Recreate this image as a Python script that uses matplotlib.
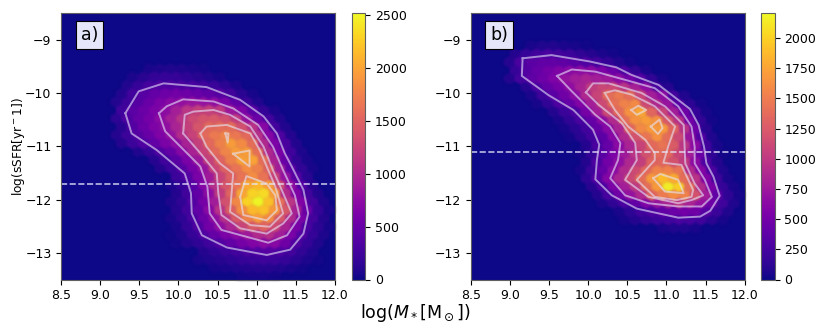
# Specific star formation rate against stellar mass, two hexbin panels with contours

import numpy as np
import matplotlib
matplotlib.use('Agg')
import matplotlib.pyplot as plt

# hexagon spacing
hex_dx = 0.14
hex_dy = 0.156

# Panel a) one row of hexagons per line: row height, x of the first hexagon, counts
a_row_y = [-13.444, -13.288, -13.132, -12.976, -12.82, -12.664, -12.508, -12.352, -12.196, -12.04,
           -11.884, -11.728, -11.572, -11.416, -11.26, -11.104, -10.948, -10.792, -10.636, -10.48,
           -10.324, -10.168, -10.012, -9.856, -9.70, -9.544]
a_row_x0 = [10.81, 10.46, 10.25, 10.32, 9.97, 9.90, 9.97, 9.90, 9.97, 9.90,
            9.97, 9.90, 9.97, 9.76, 9.69, 9.48, 9.27, 9.20, 9.27, 9.20,
            9.27, 9.20, 9.27, 9.34, 9.41, 9.62]
a_counts = [
    [30, 40, 40, 30],
    [40, 60, 80, 100, 110, 110, 90, 60, 30],
    [50, 80, 110, 150, 190, 220, 240, 230, 190, 130, 70, 30],
    [100, 160, 220, 280, 340, 370, 390, 350, 280, 170, 80],
    [30, 90, 160, 250, 360, 470, 580, 670, 740, 710, 550, 340, 190, 80],
    [20, 70, 190, 350, 490, 620, 730, 870, 1030, 1070, 900, 620, 370, 190, 70],
    [50, 180, 360, 570, 780, 980, 1240, 1440, 1520, 1320, 960, 610, 310, 140, 40],
    [50, 150, 310, 520, 770, 1080, 1430, 1750, 1950, 1820, 1420, 1010, 610, 280, 100],
    [110, 260, 460, 720, 1100, 1480, 1850, 2150, 2200, 1920, 1430, 940, 510, 200, 60],
    [70, 170, 370, 580, 900, 1350, 1800, 2300, 2500, 2200, 1620, 1120, 650, 270, 80],
    [100, 260, 470, 760, 1170, 1530, 2000, 2300, 2350, 1950, 1050, 650, 280, 90],
    [70, 190, 400, 690, 1070, 1400, 1650, 2050, 2150, 1950, 1300, 780, 370, 120],
    [230, 370, 620, 880, 1250, 1500, 1650, 1850, 1650, 1250, 800, 400, 130],
    [100, 220, 400, 590, 810, 1260, 1500, 1650, 1850, 1750, 1500, 900, 430, 170, 40],
    [110, 260, 410, 620, 850, 1210, 1520, 1750, 1980, 2000, 1600, 950, 500, 170, 50],
    [80, 180, 350, 480, 700, 950, 1230, 1560, 1780, 1950, 1950, 1620, 1000, 600, 260, 70],
    [100, 230, 360, 470, 620, 750, 950, 1200, 1560, 1750, 1950, 1830, 1600, 1030, 640, 320, 90],
    [100, 230, 390, 510, 650, 800, 1050, 1230, 1570, 1700, 1780, 1680, 1560, 1080, 680, 340, 100],
    [120, 370, 520, 640, 770, 970, 1200, 1400, 1580, 1600, 1600, 1350, 1100, 700, 280, 80],
    [150, 340, 480, 590, 740, 920, 1120, 1300, 1390, 1420, 1350, 1170, 800, 520, 270, 80],
    [250, 420, 520, 620, 750, 920, 1120, 1200, 1200, 1150, 850, 640, 420, 180, 50],
    [90, 240, 390, 510, 620, 720, 790, 830, 800, 760, 620, 450, 230, 80],
    [90, 270, 400, 480, 540, 570, 540, 500, 450, 390, 270, 130, 40],
    [90, 200, 300, 360, 360, 340, 310, 270, 220, 140, 60],
    [60, 120, 180, 200, 190, 160, 120, 80, 40],
    [50, 70, 80, 70, 50, 30],
]

# Panel b)
b_row_y = [-12.54, -12.384, -12.228, -12.072, -11.916, -11.76, -11.604, -11.448, -11.292, -11.136,
           -10.98, -10.824, -10.668, -10.512, -10.356, -10.2, -10.044, -9.888, -9.732, -9.576,
           -9.42, -9.264, -9.108]
b_row_x0 = [10.95, 10.46, 10.39, 10.18, 10.11, 10.04, 9.97, 9.90, 9.97, 9.90,
            9.97, 9.76, 9.69, 9.62, 9.55, 9.34, 9.27, 9.20, 8.99, 9.06,
            8.99, 9.06, 9.27]
b_counts = [
    [50, 70, 70, 50],
    [40, 90, 150, 200, 240, 270, 260, 220, 120, 40],
    [50, 130, 240, 300, 400, 450, 500, 480, 350, 190, 70],
    [60, 140, 280, 400, 590, 720, 850, 1000, 850, 700, 470, 220, 70],
    [90, 260, 480, 700, 880, 1340, 1500, 1620, 1550, 1200, 800, 400, 140, 40],
    [110, 290, 560, 800, 1010, 1400, 1700, 2150, 2000, 1400, 900, 520, 180, 50],
    [130, 330, 600, 860, 1130, 1400, 1700, 1900, 1800, 1400, 970, 570, 210, 50],
    [50, 210, 420, 650, 890, 1150, 1370, 1550, 1550, 1450, 900, 600, 280, 70],
    [90, 310, 500, 680, 880, 1050, 1330, 1350, 1200, 1020, 640, 300, 90],
    [40, 180, 360, 560, 770, 980, 1200, 1400, 1350, 1100, 800, 450, 150, 30],
    [90, 280, 430, 640, 850, 1080, 1370, 1450, 1270, 980, 640, 230, 50],
    [30, 120, 240, 370, 620, 880, 1200, 1450, 1650, 1400, 1130, 720, 320, 70],
    [40, 120, 230, 420, 620, 850, 1350, 1600, 1700, 1700, 1350, 950, 460, 110],
    [50, 150, 270, 430, 650, 900, 1400, 1650, 1720, 1650, 1250, 950, 500, 160, 30],
    [80, 190, 290, 520, 800, 1130, 1400, 1650, 1780, 1350, 1100, 800, 480, 180, 40],
    [40, 150, 300, 420, 590, 800, 1130, 1420, 1550, 1600, 1130, 880, 720, 350, 130, 30],
    [60, 210, 370, 490, 640, 880, 1100, 1400, 1480, 1400, 1100, 800, 680, 250, 70],
    [100, 290, 420, 510, 670, 830, 1030, 1120, 1130, 980, 820, 680, 280, 100],
    [90, 250, 380, 470, 570, 710, 790, 840, 800, 770, 670, 500, 340, 150, 40],
    [170, 330, 430, 500, 570, 630, 660, 640, 560, 450, 290, 150, 50],
    [100, 280, 370, 400, 410, 390, 350, 310, 240, 160, 80, 30],
    [90, 180, 240, 270, 240, 200, 150, 100, 60, 30],
    [50, 70, 80, 60, 40, 20],
]

# Contour lines, panel a)
a_c1_x = [9.32, 9.40, 9.72, 10.08, 10.16, 10.17, 10.30, 10.62, 11.13, 11.43, 11.60, 11.66, 11.60, 11.45, 11.36, 11.26, 11.09, 10.79, 10.36, 9.81, 9.49, 9.32]
a_c1_y = [-10.38, -10.76, -11.07, -11.51, -11.88, -12.26, -12.67, -12.90, -13.04, -12.94, -12.64, -12.26, -11.82, -11.38, -11.13, -10.76, -10.44, -10.13, -9.89, -9.82, -9.97, -10.38]
a_c2_x = [9.75, 9.83, 10.28, 10.37, 10.40, 10.55, 11.15, 11.39, 11.55, 11.49, 11.34, 11.21, 11.02, 10.70, 10.45, 10.06, 9.85, 9.75]
a_c2_y = [-10.38, -10.72, -11.38, -11.76, -12.26, -12.57, -12.81, -12.67, -12.32, -11.92, -11.45, -11.01, -10.60, -10.29, -10.16, -10.12, -10.25, -10.38]
a_c3_x = [10.06, 10.08, 10.19, 10.45, 10.66, 10.92, 11.09, 11.21, 11.34, 11.45, 11.34, 11.13, 10.79, 10.55, 10.51, 10.49, 10.28, 10.06]
a_c3_y = [-10.76, -10.41, -10.35, -10.32, -10.41, -10.63, -11.01, -11.45, -11.88, -12.26, -12.45, -12.64, -12.54, -12.29, -11.88, -11.51, -11.13, -10.76]
a_c4_x = [10.28, 10.36, 10.62, 10.92, 11.04, 11.24, 11.34, 11.17, 10.92, 10.66, 10.68, 10.70, 10.53, 10.36, 10.28]
a_c4_y = [-10.76, -10.63, -10.60, -10.76, -11.07, -11.76, -12.26, -12.51, -12.48, -12.23, -11.88, -11.51, -11.32, -11.01, -10.76]
a_c5_x = [10.79, 10.87, 11.13, 11.24, 11.26, 11.13, 10.83, 10.79]
a_c5_y = [-11.95, -11.56, -11.70, -11.92, -12.20, -12.39, -12.29, -11.95]
a_c6_x = [10.70, 10.91, 10.91, 10.70]
a_c6_y = [-11.14, -11.08, -11.38, -11.14]
a_c7_x = [10.60, 10.64, 10.63, 10.60]
a_c7_y = [-10.76, -10.76, -10.93, -10.76]

# panel b)
b_c1_x = [9.16, 9.15, 9.49, 9.81, 10.06, 10.14, 10.11, 10.09, 10.30, 10.62, 11.15, 11.43, 11.56, 11.68, 11.60, 11.51, 11.48, 11.41, 11.30, 10.90, 10.55, 10.36, 10.02, 9.53, 9.16]
b_c1_y = [-9.35, -9.68, -10.04, -10.32, -10.69, -10.97, -11.26, -11.62, -11.92, -12.17, -12.34, -12.32, -12.21, -11.93, -11.57, -11.32, -11.01, -10.60, -10.30, -9.85, -9.66, -9.52, -9.41, -9.29, -9.35]
b_c2_x = [9.60, 9.79, 10.09, 10.51, 10.85, 11.15, 11.32, 11.36, 11.36, 11.49, 11.58, 11.45, 11.15, 10.77, 10.47, 10.28, 10.38, 10.41, 10.28, 10.09, 9.79, 9.60]
b_c2_y = [-9.68, -9.56, -9.60, -9.77, -9.91, -10.25, -10.63, -11.01, -11.32, -11.63, -11.95, -12.13, -12.13, -12.07, -11.92, -11.60, -11.26, -10.94, -10.63, -10.41, -9.97, -9.68]
b_c3_x = [9.97, 10.06, 10.26, 10.68, 10.98, 11.22, 11.24, 11.36, 11.47, 11.32, 11.15, 10.77, 10.47, 10.62, 10.60, 10.43, 10.13, 9.97]
b_c3_y = [-9.99, -9.82, -9.82, -10.0, -10.25, -10.60, -11.32, -11.70, -11.92, -12.01, -12.07, -11.95, -11.63, -11.26, -10.94, -10.57, -10.22, -9.99]
b_c4_x = [10.21, 10.34, 10.55, 10.85, 11.11, 11.02, 10.96, 11.19, 11.34, 11.32, 11.13, 10.85, 10.62, 10.85, 10.85, 10.73, 10.51, 10.34, 10.21]
b_c4_y = [-10.0, -9.95, -10.03, -10.25, -10.63, -11.01, -11.31, -11.35, -11.82, -11.95, -12.01, -11.95, -11.63, -11.26, -11.13, -10.88, -10.63, -10.32, -10.0]
b_c5_x = [10.83, 10.92, 11.15, 11.22, 10.98, 10.83]
b_c5_y = [-11.60, -11.52, -11.63, -11.88, -11.85, -11.60]
b_c6_x = [10.80, 10.91, 10.95, 10.89, 10.80]
b_c6_y = [-10.63, -10.50, -10.66, -10.77, -10.63]
b_c7_x = [10.55, 10.64, 10.74, 10.62, 10.55]
b_c7_y = [-10.32, -10.24, -10.32, -10.41, -10.32]

a_contours = [(a_c1_x, a_c1_y), (a_c2_x, a_c2_y), (a_c3_x, a_c3_y), (a_c4_x, a_c4_y),
              (a_c5_x, a_c5_y), (a_c6_x, a_c6_y), (a_c7_x, a_c7_y)]
b_contours = [(b_c1_x, b_c1_y), (b_c2_x, b_c2_y), (b_c3_x, b_c3_y), (b_c4_x, b_c4_y),
              (b_c5_x, b_c5_y), (b_c6_x, b_c6_y), (b_c7_x, b_c7_y)]

a_cut = -11.7
b_cut = -11.1
a_vmax = 2516
b_vmax = 2207
a_ticks = [0, 500, 1000, 1500, 2000, 2500]
b_ticks = [0, 250, 500, 750, 1000, 1250, 1500, 1750, 2000]
x_ticks = [8.5, 9.0, 9.5, 10.0, 10.5, 11.0, 11.5, 12.0]
y_ticks = [-13, -12, -11, -10, -9]

navy = plt.cm.plasma(0.0)


def rows_to_points(row_y, row_x0, counts):
    xs, ys, cs = [], [], []
    for y, x0, row in zip(row_y, row_x0, counts):
        for k, c in enumerate(row):
            xs.append(x0 + k * hex_dx)
            ys.append(y)
            cs.append(c)
    return np.array(xs), np.array(ys), np.array(cs)


# the reference is a soft raster, so soften the hexagons a bit
def soften(image, dpi):
    pad = 3
    img = np.pad(image, ((pad, pad), (pad, pad), (0, 0)))
    # empty pixels take the background colour, otherwise the blur leaves a dark rim
    empty = img[..., 3] == 0
    img[empty, 0] = navy[0]
    img[empty, 1] = navy[1]
    img[empty, 2] = navy[2]
    kernel = [0.03, 0.2, 0.54, 0.2, 0.03]
    for axis in (0, 1):
        img = sum(w * np.roll(img, k - 2, axis=axis) for k, w in enumerate(kernel))
    return img, -pad, -pad


def draw_panel(ax, cax, row_y, row_x0, counts, y_first, vmax, contours, cut, ticks, label):
    xs, ys, cs = rows_to_points(row_y, row_x0, counts)
    ax.set_facecolor(navy)
    hb = ax.hexbin(xs, ys, C=cs, gridsize=(25, 17), cmap='plasma', vmin=0, vmax=vmax,
                   extent=(8.5, 12.0, y_first, y_first + 17 * 2 * hex_dy),
                   edgecolors='face', linewidths=0.3)
    hb.set_agg_filter(soften)
    for cx, cy in contours:
        ax.plot(cx, cy, color='lavender', lw=1.4, alpha=0.6)
    ax.axhline(cut, color='lavender', lw=1.3, ls=(0, (3.4, 1.4)), alpha=0.75)
    ax.set_xlim(8.5, 12.0)
    ax.set_ylim(-13.5, -8.5)
    ax.set_xticks(x_ticks)
    ax.set_yticks(y_ticks)
    ax.tick_params(labelsize=9, width=0.8, length=3.5, pad=3.5)
    ax.text(0.103, 0.917, label, transform=ax.transAxes, fontsize=12.5, va='center', ha='center',
            bbox=dict(facecolor='lavender', edgecolor='black', boxstyle='square,pad=0.3', lw=0.8))
    cb = fig.colorbar(hb, cax=cax, ticks=ticks)
    cb.ax.tick_params(labelsize=9, width=0.8, length=3.5, pad=3.5)
    for sp in list(ax.spines.values()) + list(cb.ax.spines.values()):
        sp.set_color('#606060')
        sp.set_linewidth(0.8)


W, H = 831.0, 332.0
fig = plt.figure(figsize=(8.31, 3.32), dpi=100)


def px_axes(x0, x1):
    return fig.add_axes([x0 / W, 1 - 279.5 / H, (x1 - x0) / W, (279.5 - 13) / H])


ax1 = px_axes(61.3, 334.7)
cax1 = px_axes(351.7, 365)
ax2 = px_axes(471, 744.7)
cax2 = px_axes(761, 774.7)

draw_panel(ax1, cax1, a_row_y, a_row_x0, a_counts, -13.6, a_vmax, a_contours, a_cut, a_ticks, 'a)')
draw_panel(ax2, cax2, b_row_y, b_row_x0, b_counts, -13.632, b_vmax, b_contours, b_cut, b_ticks, 'b)')

ax1.set_ylabel(r'log(sSFR[yr$^-$1])', fontsize=8.8, labelpad=-1)
fig.text(415.5 / W, 1 - 313 / H, r'log($M_*$[M$_\odot$])', fontsize=12.5, ha='center', va='center')

plt.savefig('out.png', dpi=100)
